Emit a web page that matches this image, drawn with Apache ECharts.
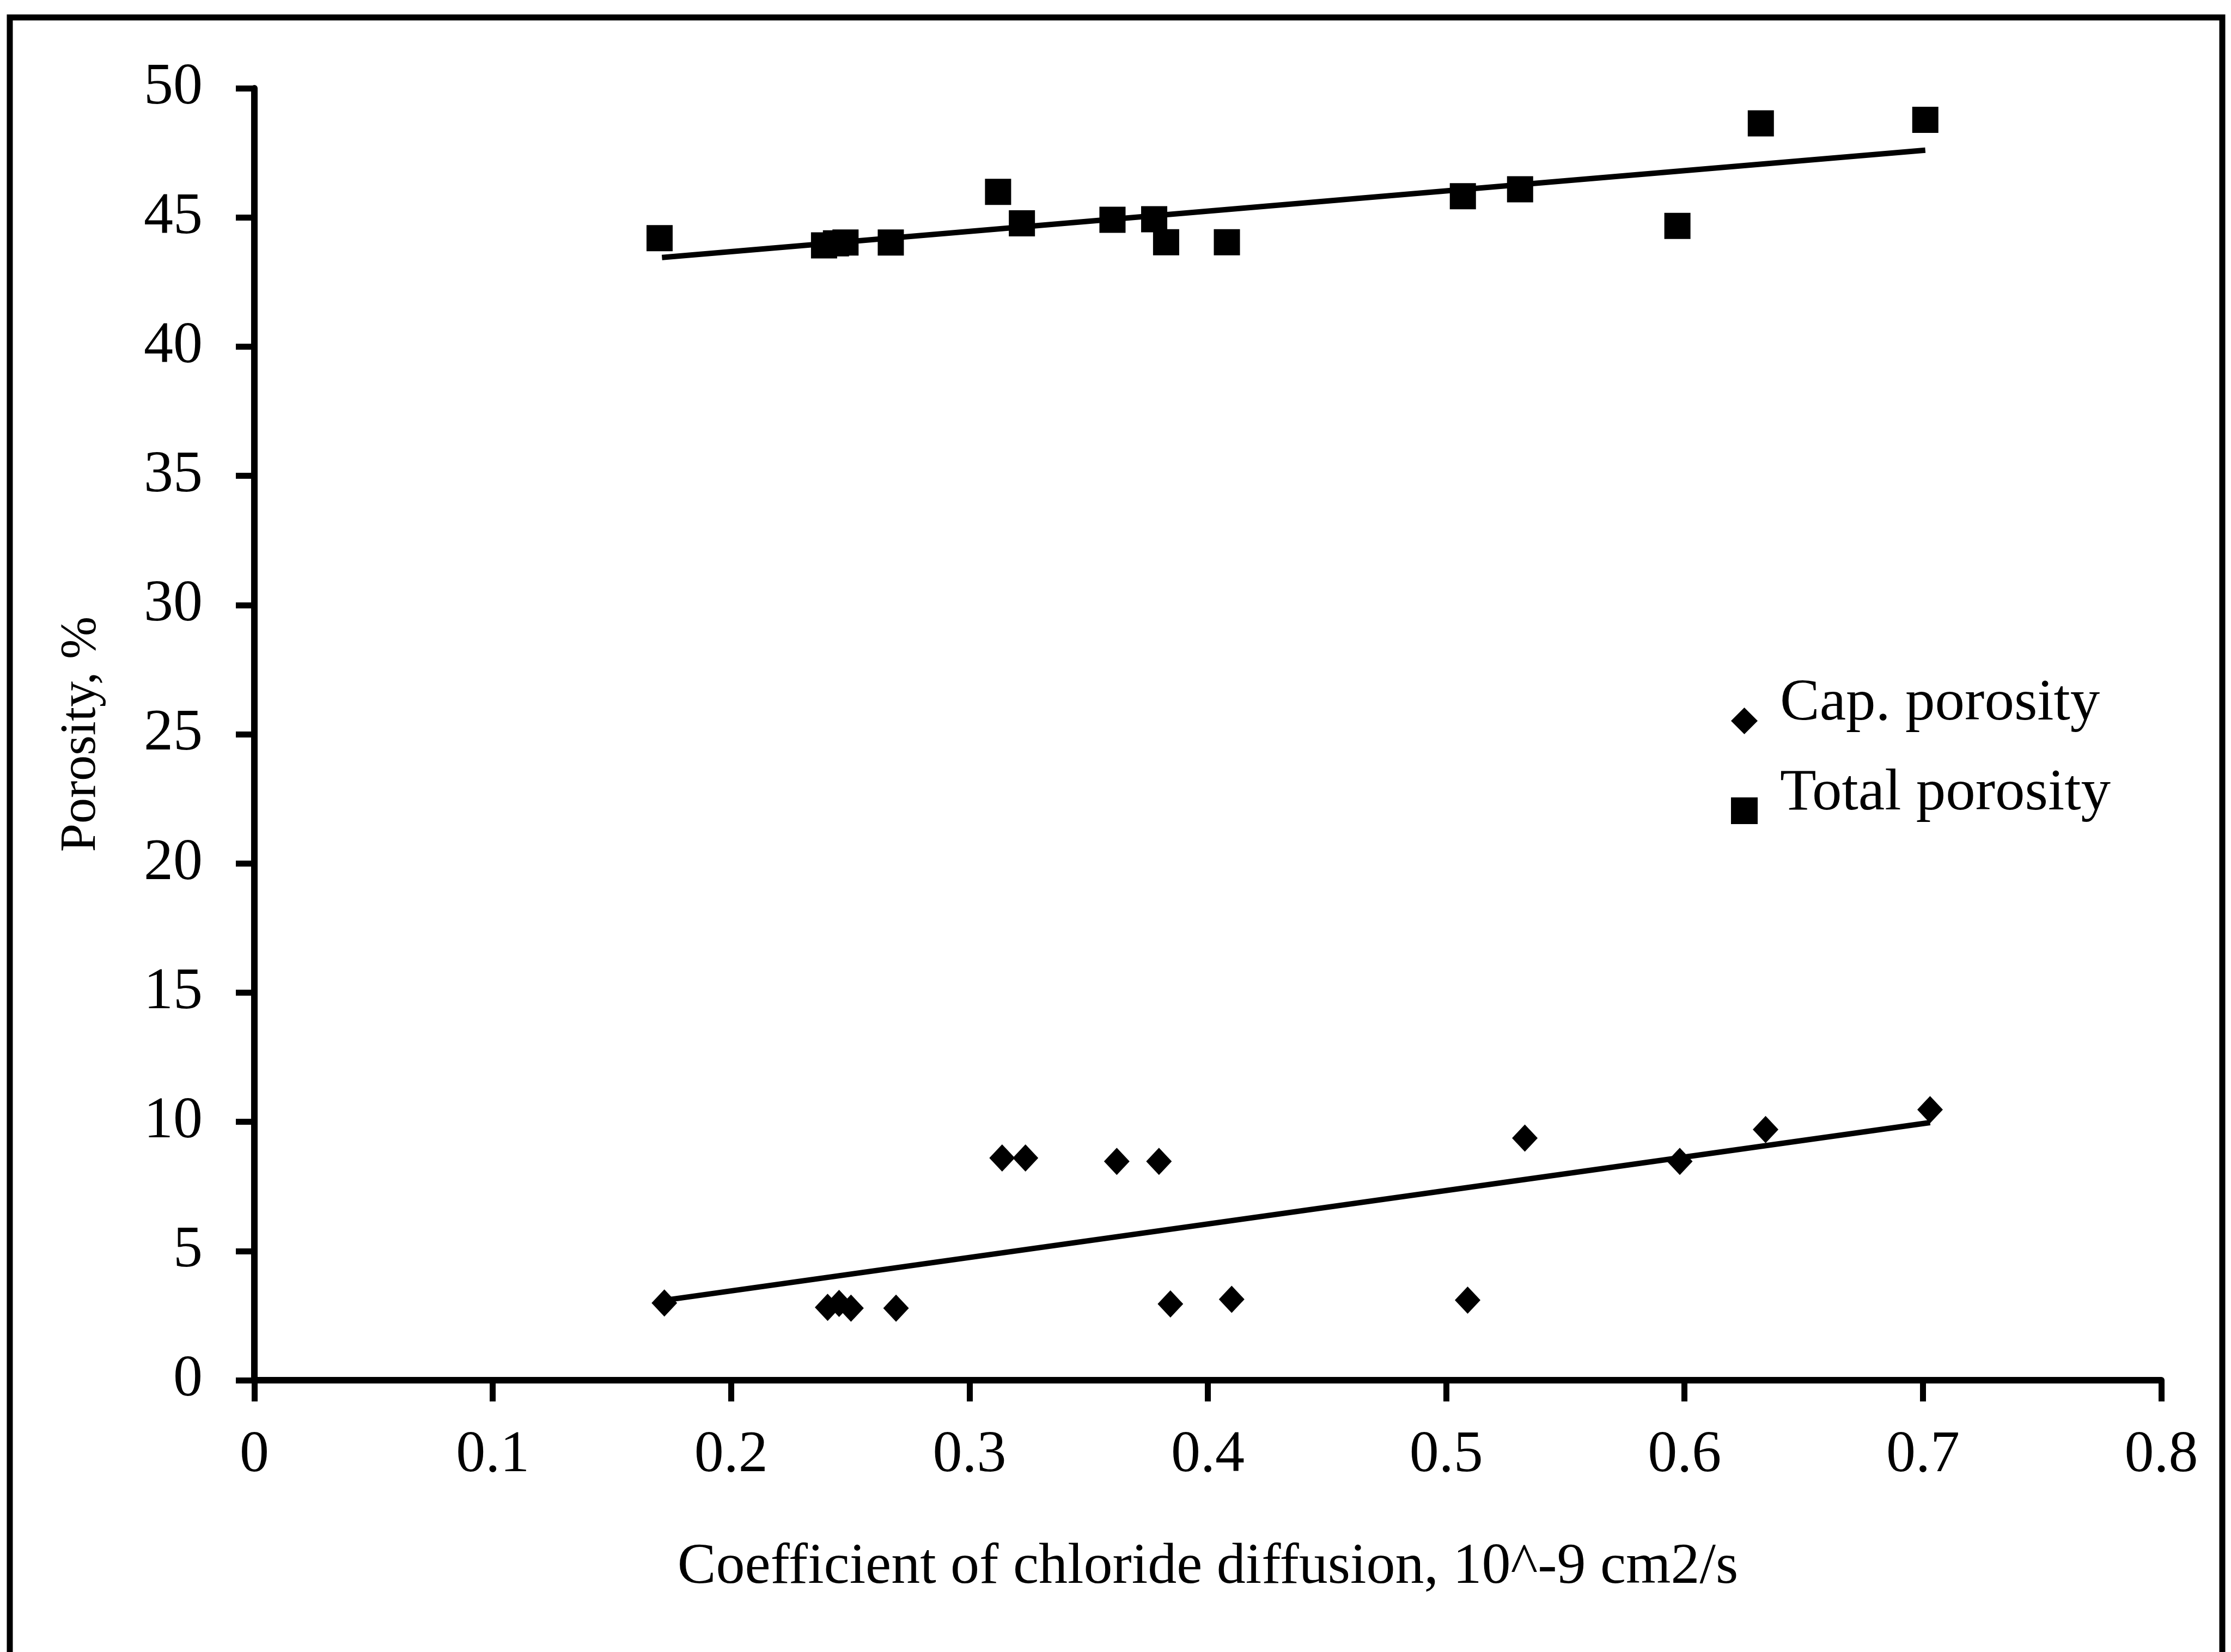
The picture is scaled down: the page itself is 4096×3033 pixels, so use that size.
<!DOCTYPE html>
<html><head><meta charset="utf-8">
<script src="https://cdn.jsdelivr.net/npm/echarts@6/dist/echarts.min.js"></script>
<style>html,body{margin:0;padding:0;background:#fff}#c{width:4096px;height:3033px}</style>
</head><body><div id="c"></div>
<script>
// ---- data ----
const capX = [0.172, 0.2405, 0.2453, 0.2503, 0.2692, 0.3137, 0.3235, 0.3618, 0.3795, 0.3843, 0.410, 0.509, 0.533, 0.598, 0.634, 0.703];
const capY = [2.99, 2.82, 2.97, 2.79, 2.79, 8.6, 8.6, 8.47, 8.47, 2.95, 3.13, 3.10, 9.37, 8.47, 9.70, 10.47];
const totX = [0.170, 0.239, 0.244, 0.248, 0.267, 0.312, 0.322, 0.360, 0.3775, 0.3825, 0.408, 0.507, 0.531, 0.597, 0.632, 0.701];
const totY = [44.2, 43.92, 44.0, 44.03, 44.03, 45.99, 44.77, 44.91, 44.93, 44.04, 44.04, 45.82, 46.09, 44.67, 48.64, 48.78];
const capTrendX = [0.171, 0.703];
const capTrendY = [3.08, 9.97];
const totTrendX = [0.171, 0.701];
const totTrendY = [43.45, 47.6];
const seriesNames = ['Cap. porosity', 'Total porosity'];
const xName = 'Coefficient of chloride diffusion, 10^-9 cm2/s';
const yName = 'Porosity, %';
const xRange = [0, 0.8, 0.1];
const yRange = [0, 50, 5];

const zip = (xs, ys) => xs.map((x, i) => [x, ys[i]]);
const font = 'Liberation Serif';
const black = '#000';
const chart = echarts.init(document.getElementById('c'));
const legendBase = {
  orient: 'vertical', left: 3178, padding: 0, itemWidth: 49, itemHeight: 49, selectedMode: false,
  formatter: n => '{t|' + n + '}',
  textStyle: {
    fontFamily: font, fontSize: 109, color: black,
    rich: { t: { fontFamily: font, fontSize: 109, color: black, padding: [0, 0, 62, 36] } }
  }
};
chart.setOption({
  animation: false,
  backgroundColor: '#fff',
  grid: { left: 467, right: 128, top: 162, bottom: 499 },
  xAxis: {
    type: 'value', min: xRange[0], max: xRange[1], interval: xRange[2],
    name: xName, nameLocation: 'middle', nameGap: 291,
    nameTextStyle: { fontFamily: font, fontSize: 106, color: black },
    axisLine: { show: true, onZero: false, lineStyle: { color: black, width: 12 } },
    axisTick: { show: true, length: 39, lineStyle: { color: black, width: 11 } },
    axisLabel: { margin: 85, fontFamily: font, fontSize: 108, color: black },
    splitLine: { show: false }
  },
  yAxis: {
    type: 'value', min: yRange[0], max: yRange[1], interval: yRange[2],
    name: yName, nameLocation: 'middle', nameGap: 271, nameRotate: 90,
    nameTextStyle: { fontFamily: font, fontSize: 94, color: black },
    axisLine: { show: true, onZero: false, lineStyle: { color: black, width: 12 } },
    axisTick: { show: true, length: 34, lineStyle: { color: black, width: 11 } },
    axisLabel: { margin: 95, fontFamily: font, fontSize: 108, color: black, padding: [0, 0, 50, 0] },
    splitLine: { show: false }
  },
  legend: [
    Object.assign({}, legendBase, { data: [seriesNames[0]], top: 1238 }),
    Object.assign({}, legendBase, { data: [seriesNames[1]], top: 1403 })
  ],
  graphic: [{
    type: 'rect', silent: true, z: -10,
    shape: { x: 18, y: 32, width: 4062, height: 3100 },
    style: { fill: 'transparent', stroke: black, lineWidth: 11 }
  }],
  series: [
    { name: seriesNames[0], type: 'scatter', symbol: 'diamond', symbolSize: [47, 50], itemStyle: { color: black, opacity: 1 }, data: zip(capX, capY), z: 4 },
    { name: seriesNames[1], type: 'scatter', symbol: 'rect', symbolSize: [48, 48], itemStyle: { color: black, opacity: 1 }, data: zip(totX, totY), z: 4 },
    { name: 'capTrend', type: 'line', showSymbol: false, symbol: 'none', lineStyle: { color: black, width: 10 }, data: zip(capTrendX, capTrendY), z: 3 },
    { name: 'totTrend', type: 'line', showSymbol: false, symbol: 'none', lineStyle: { color: black, width: 10 }, data: zip(totTrendX, totTrendY), z: 3 }
  ]
});
</script>
</body></html>
